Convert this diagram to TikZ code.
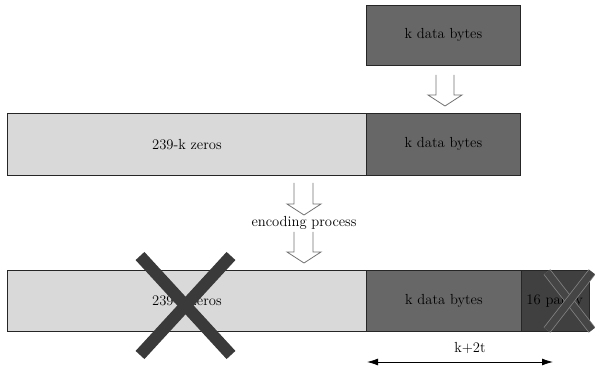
\documentclass[tikz,border=0pt]{standalone}
\usetikzlibrary{arrows.meta}
\definecolor{zerofill}{HTML}{D9D9D9}
\definecolor{datafill}{HTML}{676767}
\definecolor{parfill}{HTML}{404040}
\definecolor{crossc}{HTML}{3A3A3A}
\tikzset{
  txt/.style={font=\fontsize{14.6}{17}\selectfont},
  cell/.style={txt, draw=black!85, line width=0.8pt, inner sep=0pt, anchor=north west},
  hollow/.style={draw=black!55, line width=0.8pt, fill=white, line join=miter},
  crossbar/.style={draw=crossc, line width=12pt, line cap=butt},
  smallbar/.style={draw=black!48, line width=8.5pt, line cap=butt,
    postaction={draw=black!73, line width=7pt}},
}
\begin{document}
\begin{tikzpicture}[x=1pt,y=-1pt]
\useasboundingbox (0,0) rectangle (595,371);

% incoming data block
\node[cell, fill=datafill, minimum width=154pt, minimum height=60pt] (top) at (366,5) {k data bytes};

% zero-padded block
\node[cell, fill=zerofill, minimum width=359pt, minimum height=62pt] (pad) at (7,113) {239-k zeros};
\node[cell, fill=datafill, minimum width=154pt, minimum height=62pt] (padk) at (366,113) {k data bytes};

% encoded codeword
\node[cell, fill=zerofill, minimum width=359pt, minimum height=61pt] (cz) at (7,270) {239-k zeros};
\node[cell, fill=datafill, minimum width=155pt, minimum height=61pt] (ck) at (366,270) {k data bytes};
\node[cell, fill=parfill, minimum width=68pt, minimum height=61pt, text width=68pt, align=left] (cp) at (521,270) {\hspace{5pt}16 parity};

% hollow arrows
\draw[hollow] (436,75) -- (436,95) -- (428,95) -- (445,106) -- (462,95) -- (454,95) -- (454,75);

\node[txt, inner sep=1pt] (enc) at (304,223) {encoding process};
\draw[hollow] (294,183) -- (294,204) -- (287,204) -- (304,215) -- (321,204) -- (313,204) -- (313,183);
\draw[hollow] (294,232) -- (294,252) -- (287,252) -- (304,263) -- (321,252) -- (313,252) -- (313,232);

% discarded parts
\draw[crossbar] (140,256) -- (231,355);
\draw[crossbar] (231,256) -- (140,355);
\draw[smallbar] (547,272) -- (592,330);
\draw[smallbar] (592,272) -- (547,330);

% codeword length
\coordinate (L) at (367,362);
\coordinate (R) at (553,362);
\draw[line width=0.8pt, {Latex[length=11pt,width=7pt]}-{Latex[length=11pt,width=7pt]}] (L) -- (R);
\node[txt] (len) at (470,348) {k+2t};
\end{tikzpicture}
\end{document}
